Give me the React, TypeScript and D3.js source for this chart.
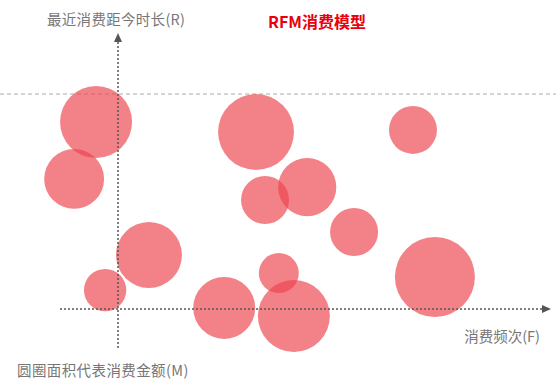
import React from "react";
import * as d3 from "d3";

const frequency = [-5.1, -10.2, 32.1, 68.6, 34.2, 44.0, 54.9, 7.2, 37.4, -3.0, 24.7, 40.9, 73.7];
const recency = [87, 60.5, 82.3, 83.3, 50.7, 56.7, 35.8, 25.1, 16.7, 8.8, 0.5, -3.3, 14.9];
const monetary = [81, 56, 90, 36, 36, 53, 36, 68, 25, 28, 60, 81, 100];

const title = "RFM消费模型";
const yLabel = "最近消费距今时长(R)";
const xLabel = "消费频次(F)";
const sizeLabel = "圆圈面积代表消费金额(M)";

const W = 556;
const H = 386;

export default function App() {
  const x = d3.scaleLinear().domain([0, 100]).range([118, 548]);
  const y = d3.scaleLinear().domain([0, 100]).range([309, 94]);
  const r = d3.scaleSqrt().domain([0, 100]).range([0, 40]);
  const font = "'Noto Sans CJK SC', 'Noto Sans', sans-serif";
  const axisColor = "#555";
  const x0 = x(0);
  const y0 = y(0);
  return (
    <svg width={W} height={H} style={{ position: "absolute", left: 0, top: 0, background: "#fff" }}>
      <line x1={0} x2={W} y1={y(100)} y2={y(100)} stroke="#aaa" strokeWidth={1} strokeDasharray="4 3" />
      {frequency.map((f, i) => (
        <circle key={i} cx={x(f)} cy={y(recency[i])} r={r(monetary[i])} fill="#ee4650" fillOpacity={0.68} />
      ))}
      <line x1={x0} x2={x0} y1={348} y2={40} stroke={axisColor} strokeWidth={1.5} strokeDasharray="2 2" />
      <path d={`M${x0 - 4},${42} L${x0},${33} L${x0 + 4},${42} Z`} fill={axisColor} />
      <line x1={60} x2={542} y1={y0} y2={y0} stroke={axisColor} strokeWidth={1.5} strokeDasharray="2 2" />
      <path d={`M${542},${y0 - 4} L${551},${y0} L${542},${y0 + 4} Z`} fill={axisColor} />
      <text x={317} y={28} textAnchor="middle" fill="#e8000b" fontWeight="bold" fontSize={16} fontFamily={font}>{title}</text>
      <text x={47} y={25} fill="#777" fontSize={14.5} letterSpacing={0.3} fontFamily={font}>{yLabel}</text>
      <text x={540} y={342} textAnchor="end" fill="#777" fontSize={14.5} fontFamily={font}>{xLabel}</text>
      <text x={17} y={376} fill="#777" fontSize={14.5} letterSpacing={0.4} fontFamily={font}>{sizeLabel}</text>
    </svg>
  );
}
